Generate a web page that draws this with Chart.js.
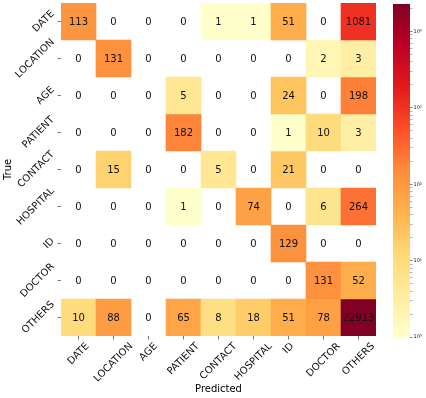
<!DOCTYPE html>
<html><head><meta charset="utf-8">
<script src="https://cdn.jsdelivr.net/npm/chart.js@4/dist/chart.umd.min.js"></script>
<style>html,body{margin:0;padding:0;background:#fff;}#wrap{position:relative;width:426px;height:398px;}canvas{position:absolute;left:0;top:0;}</style>
</head><body><div id="wrap"><canvas id="main" width="426" height="398"></canvas><canvas id="cbar" width="426" height="398"></canvas></div>
<script>
const trueLabels = ['DATE','LOCATION','AGE','PATIENT','CONTACT','HOSPITAL','ID','DOCTOR','OTHERS'];
const predLabels = ['DATE','LOCATION','AGE','PATIENT','CONTACT','HOSPITAL','ID','DOCTOR','OTHERS'];
const rowDate     = [113, 0, 0, 0, 1, 1, 51, 0, 1081];
const rowLocation = [0, 131, 0, 0, 0, 0, 0, 2, 3];
const rowAge      = [0, 0, 0, 5, 0, 0, 24, 0, 198];
const rowPatient  = [0, 0, 0, 182, 0, 0, 1, 10, 3];
const rowContact  = [0, 15, 0, 0, 5, 0, 21, 0, 0];
const rowHospital = [0, 0, 0, 1, 0, 74, 0, 6, 264];
const rowId       = [0, 0, 0, 0, 0, 0, 129, 0, 0];
const rowDoctor   = [0, 0, 0, 0, 0, 0, 0, 131, 52];
const rowOthers   = [10, 88, 0, 65, 8, 18, 51, 78, 22913];
const colorbarExponents = [0, 1, 2, 3, 4];

const matrix = [rowDate,rowLocation,rowAge,rowPatient,rowContact,rowHospital,rowId,rowDoctor,rowOthers];
const vmin = 1;
const vmax = Math.max(...matrix.flat());
const FONT = 'DejaVu Sans';
const stops = ['#ffffcc','#ffeda0','#fed976','#feb24c','#fd8d3c','#fc4e2a','#e31a1c','#bd0026','#800026'];
function hex(c){return [1,3,5].map(k=>parseInt(c.substr(k,2),16));}
function cmap(v){
  let t = Math.log(v/vmin)/Math.log(vmax/vmin);
  t = Math.max(0, Math.min(1, t));
  const p = t*(stops.length-1);
  const k = Math.min(Math.floor(p), stops.length-2);
  const f = p-k;
  const a = hex(stops[k]), b = hex(stops[k+1]);
  const c = a.map((x,n)=>Math.round(x+(b[n]-x)*f));
  return 'rgb('+c.join(',')+')';
}

const datasets = matrix.map((row,i)=>({
  data: row.map(v => v>0 ? [i-0.5, i+0.5] : null),
  backgroundColor: row.map(v => v>0 ? cmap(v) : 'rgba(0,0,0,0)'),
  borderWidth: 0, barPercentage: 1, categoryPercentage: 1, grouped: false
}));

const textPlugin = {
  id: 'cellText',
  afterDraw(chart){
    const ctx = chart.ctx, xs = chart.scales.x, ys = chart.scales.y;
    ctx.save();
    ctx.fillStyle = '#111';
    ctx.font = '10px "'+FONT+'"';
    ctx.textAlign = 'center'; ctx.textBaseline = 'middle';
    matrix.forEach((row,i)=>row.forEach((v,j)=>{
      ctx.fillText(String(v), xs.getPixelForValue(j), ys.getPixelForValue(i)+0.5);
    }));
    // tick labels, rotated 45 deg
    const r = Math.SQRT1_2;
    trueLabels.forEach((lab,i)=>{
      const w = ctx.measureText(lab).width;
      const W = (w+7.5)*r;
      const cx = 55.5 - W/2, cy = ys.getPixelForValue(i);
      ctx.save(); ctx.translate(cx,cy); ctx.rotate(-Math.PI/4);
      ctx.fillText(lab,0,0); ctx.restore();
    });
    predLabels.forEach((lab,j)=>{
      const w = ctx.measureText(lab).width;
      const W = (w+7.5)*r;
      const cx = xs.getPixelForValue(j), cy = 342 + W/2;
      ctx.save(); ctx.translate(cx,cy); ctx.rotate(-Math.PI/4);
      ctx.fillText(lab,0,0); ctx.restore();
    });
    ctx.restore();
  }
};

const gridOpts = {display:true, drawOnChartArea:false, drawTicks:true, tickLength:3.5, tickColor:'#555', tickWidth:0.8, offset:false};

new Chart(document.getElementById('main'), {
  type:'bar',
  data:{labels:predLabels, datasets},
  options:{
    responsive:false, animation:false, devicePixelRatio:1, events:[],
    layout:{padding:{left:0, top:3, right:50, bottom:0}},
    plugins:{legend:{display:false}, tooltip:{enabled:false}},
    scales:{
      x:{type:'category', offset:true, grid:gridOpts, border:{display:false},
         ticks:{display:false},
         title:{display:true, text:'Predicted', color:'#000', font:{family:FONT,size:10}, padding:{top:0,bottom:3}},
         afterFit(s){s.height=62;}},
      y:{type:'linear', reverse:true, min:-0.5, max:8.5,
         afterBuildTicks(s){s.ticks = trueLabels.map((_,i)=>({value:i}));},
         grid:gridOpts, border:{display:false}, ticks:{display:false},
         title:{display:true, text:'True', color:'#000', font:{family:FONT,size:10}, padding:{top:2,bottom:0}},
         afterFit(s){s.width=61;}}
    }
  },
  plugins:[textPlugin]
});

const sup = ['\u2070','\u00b9','\u00b2','\u00b3','\u2074'];
new Chart(document.getElementById('cbar'), {
  type:'bar',
  data:{labels:[''], datasets:[{
    data:[[vmin, vmax]],
    backgroundColor(ctx){
      const a = ctx.chart.chartArea;
      if(!a) return stops[0];
      const g = ctx.chart.ctx.createLinearGradient(0,a.bottom,0,a.top);
      stops.forEach((c,k)=>g.addColorStop(k/(stops.length-1), c));
      return g;
    },
    borderWidth:0, barPercentage:1, categoryPercentage:1
  }]},
  options:{
    responsive:false, animation:false, devicePixelRatio:1, events:[],
    layout:{padding:{left:393, top:3, right:0, bottom:61}},
    plugins:{legend:{display:false}, tooltip:{enabled:false}},
    scales:{
      x:{display:false},
      y:{type:'logarithmic', position:'right', min:vmin, max:vmax,
         afterBuildTicks(s){
           const t=[];
           colorbarExponents.forEach(e=>{for(let m=1;m<=9;m++){const v=m*Math.pow(10,e); if(v<=vmax) t.push({value:v, major:m===1});}});
           s.ticks=t;
         },
         ticks:{autoSkip:false, padding:1, color:'#222', font:{family:FONT,size:5},
           callback(v){const e=Math.round(Math.log10(v)); return Math.abs(Math.pow(10,e)-v)<1e-6 ? '10'+sup[e] : '';}},
         grid:{display:true, drawOnChartArea:false, drawTicks:true, tickLength:2.5, tickColor:'#666',
           tickWidth(ctx){const v=ctx.tick&&ctx.tick.value; const e=Math.round(Math.log10(v)); return Math.abs(Math.pow(10,e)-v)<1e-6?0.8:0.5;}},
         border:{display:false},
         afterFit(s){s.width=16;}}
    }
  }
});
</script></body></html>
